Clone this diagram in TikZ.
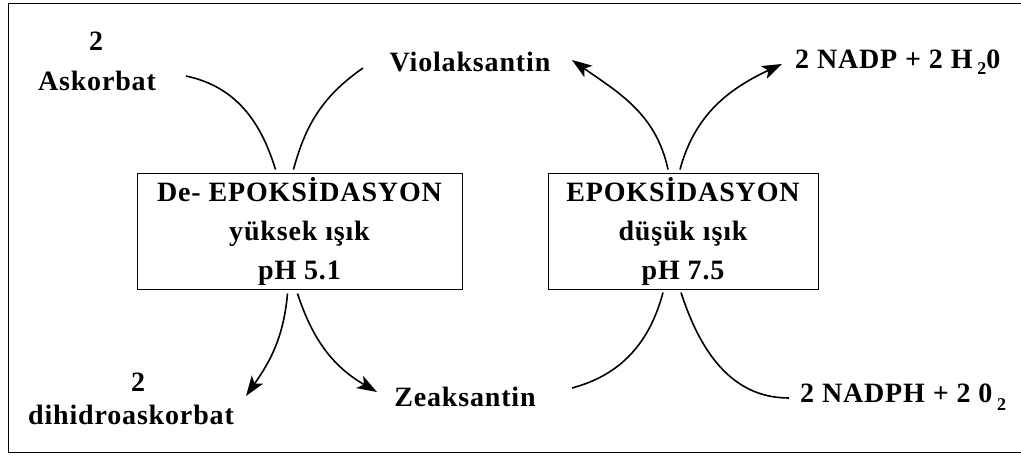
\documentclass[tikz,border=0pt]{standalone}
\usepackage{fontspec}
\setmainfont{Liberation Serif}[LetterSpace=3]
\usetikzlibrary{arrows.meta,calc}
\begin{document}
\begin{tikzpicture}[x=1pt,y=-1pt,
  lbl/.style={inner sep=0pt,font=\fontsize{28}{28}\selectfont\bfseries},
  boxnode/.style={draw,line width=1pt,inner sep=0pt,align=center,font=\fontsize{28}{39}\selectfont\bfseries},
  conn/.style={line width=1.6pt},
  arr/.style={line width=1.6pt,-{Stealth[length=20pt,width=14pt,inset=5pt]}}]
\useasboundingbox (0,0) rectangle (1021,456);
\draw[line width=1pt] (1021,3) -- (8,3) -- (8,452) -- (1021,452);
% boxes
\node[boxnode,minimum width=325pt,minimum height=116pt] (b1) at (299.5,231) {De- EPOKSİDASYON\\yüksek ışık\\pH 5.1};
\node[boxnode,minimum width=270pt,minimum height=116pt] (b2) at (683,231) {EPOKSİDASYON\\düşük ışık\\pH 7.5};
% labels
\node[lbl] (two1) at (96,41) {2};
\node[lbl] (ask) at (97,81) {Askorbat};
\node[lbl] (vio) at (470,62) {Violaksantin};
\node[lbl,anchor=west] (nadp) at (795,62) {2 NADP + 2 H\,\raisebox{-6pt}{\fontsize{18}{18}\selectfont 2}0};
\node[lbl] (two2) at (138,382) {2};
\node[lbl] (dhs) at (131,415) {dihidroaskorbat};
\node[lbl] (zea) at (465,397) {Zeaksantin};
\node[lbl,anchor=west] (nadph) at (800,397) {2 NADPH + 2 0\,\raisebox{-8pt}{\fontsize{18}{18}\selectfont 2}};
% connector ends
\coordinate (askE) at (186,76);
\coordinate (vioW) at (363,68);
\coordinate (vioT) at (572,60);
\coordinate (nadpT) at (782,64);
\coordinate (dhsT) at (246,396);
\coordinate (zeaT) at (377,392);
\coordinate (zeaE) at (572,388);
\coordinate (nadphW) at (789,398);
% connectors
\draw[conn] (askE) to[out=-12,in=107] ($(b1.north)+(-24,-3)$);
\draw[conn] (vioW) to[out=215,in=75] ($(b1.north)+(-6,-3)$);
\draw[arr] ($(b2.north)+(-15,-3)$) to[out=102,in=-35] (vioT);
\draw[arr] ($(b2.north)+(-3,-3)$) to[out=75,in=205] (nadpT);
\draw[arr] ($(b1.south)+(-12,4)$) to[out=-95,in=55] (dhsT);
\draw[arr] ($(b1.south)+(-2,4)$) to[out=-72,in=150] (zeaT);
\draw[conn] (zeaE) to[out=15,in=-105] ($(b2.south)+(-20,3)$);
\draw[conn] (nadphW) to[out=180,in=-72] ($(b2.south)+(-2,3)$);
\end{tikzpicture}
\end{document}
